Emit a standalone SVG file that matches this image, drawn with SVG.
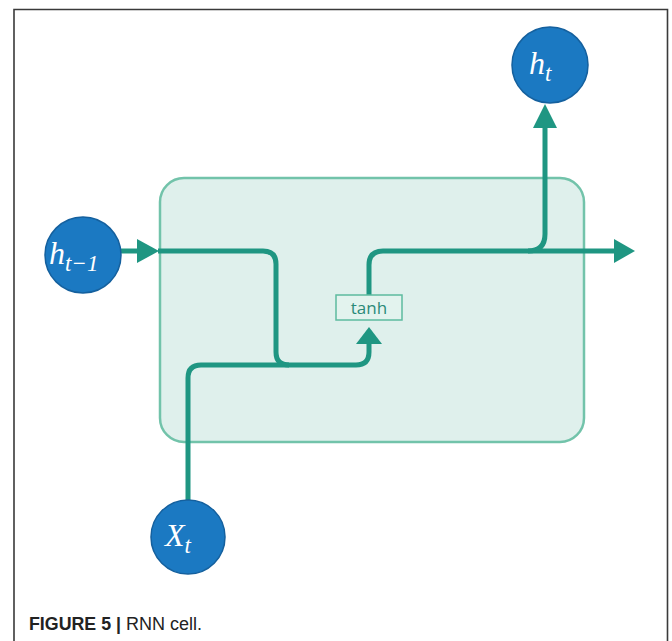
<svg xmlns="http://www.w3.org/2000/svg" width="672" height="641" viewBox="0 0 672 641">
<style>
.node circle{fill:#1b79c2;stroke:#14609e;stroke-width:1.5}
.lbl{font-family:"Liberation Serif","DejaVu Serif",serif;font-style:italic;fill:#ffffff}
.con path{fill:none;stroke:#1f9682;stroke-width:5;stroke-linecap:butt}
.con polygon{fill:#1f9682}
.cap{font-family:"Liberation Sans",Arial,sans-serif;font-size:18px;fill:#222}
</style>
<rect width="672" height="641" fill="#ffffff"/>
<path d="M14,641 V9.5 H667.5 V641" fill="none" stroke="#3a3a3a" stroke-width="1.6"/>
<g id="cell">
<rect x="160" y="178" width="424" height="264" rx="24" fill="#dff0ec" stroke="#72c3aa" stroke-width="2.5"/>
</g>
<g id="connectors" class="con">
<path d="M120,251 H140"/>
<polygon points="137,239 159,251 137,263"/>
<path d="M158,251 H263 Q276,251 276,264 V352 Q276,365 289,365"/>
<path d="M188,500 V378 Q188,365 201,365 H356 Q369,365 369,352 V342"/>
<polygon points="356,344 369,327 382,344"/>
<path d="M369,295 V265 Q369,251 383,251 H616"/>
<polygon points="614,239 635,251 614,263"/>
<path d="M528,251 Q545,251 545,234 V126"/>
<polygon points="533,128 545,104 557,128"/>
</g>
<g id="tanh">
<rect x="336" y="295" width="66" height="25" fill="#e3f3ee" stroke="#5dbb9f" stroke-width="1.5"/>
<text x="369" y="314" text-anchor="middle" font-family="'Open Sans','DejaVu Sans',sans-serif" font-size="17" fill="#2a8a78">tanh</text>
</g>
<g id="h_prev" class="node">
<circle cx="83" cy="255" r="38"/>
<text class="lbl" x="49" y="264" font-size="32">h<tspan font-size="23" dy="7">t−1</tspan></text>
</g>
<g id="h_t" class="node">
<circle cx="550" cy="65" r="38"/>
<text class="lbl" x="529" y="74" font-size="32">h<tspan font-size="23" dy="7">t</tspan></text>
</g>
<g id="x_t" class="node">
<circle cx="188" cy="537" r="37"/>
<text class="lbl" x="165" y="546" font-size="32">X<tspan font-size="23" dy="7">t</tspan></text>
</g>
<g id="caption">
<text class="cap" x="29" y="630" font-weight="bold" textLength="92" lengthAdjust="spacingAndGlyphs">FIGURE 5 |</text>
<text class="cap" x="126" y="630" textLength="76" lengthAdjust="spacingAndGlyphs">RNN cell.</text>
</g>
</svg>
